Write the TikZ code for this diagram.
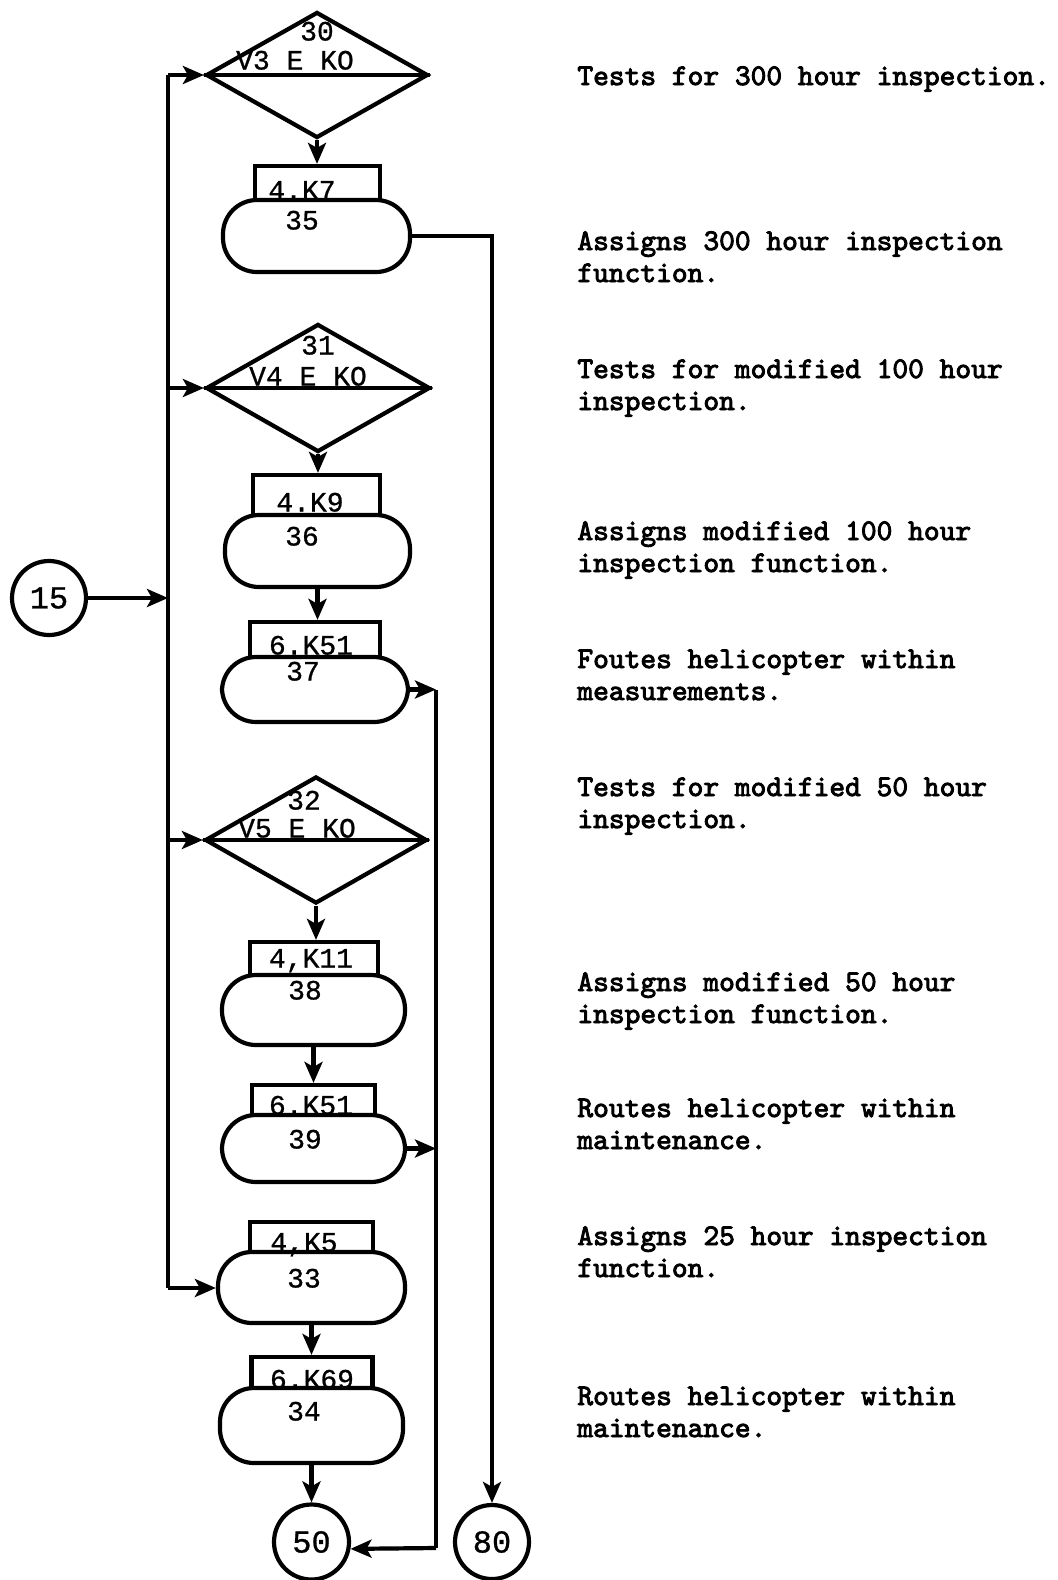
\documentclass[tikz,border=0pt]{standalone}
\usepackage{fontspec}
\newfontfamily\letterfont{Liberation Mono}[FakeBold=0.8]
\newfontfamily\typefont{lmmono10-regular.otf}[FakeBold=3]
\usetikzlibrary{arrows.meta,shapes.geometric}

\begin{document}
\begin{tikzpicture}[
  x=0.5pt, y=-0.5pt,
  ln/.style={line width=2.1pt},
  arr/.style={ln, -{Stealth[length=10.5pt,width=9pt,inset=2.5pt]}},
  decision/.style={draw, ln, diamond, inner sep=0pt},
  tagbox/.style={draw, ln, rectangle, inner sep=0pt},
  pill/.style={draw, ln, rectangle, inner sep=0pt, rounded corners=17pt},
  connector/.style={draw, ln, circle, inner sep=0pt, minimum size=37pt,
                    font=\letterfont\fontsize{16pt}{17pt}\selectfont},
  lbl/.style={inner sep=0pt, text height=8.5pt, text depth=0pt,
              font=\letterfont\fontsize{14pt}{15pt}\selectfont},
  note/.style={inner sep=0pt, anchor=base west, align=left,
               font=\typefont\fontsize{15pt}{16pt}\selectfont}
]
\useasboundingbox (0,0) rectangle (1057,1580);

% ---------- decision 30 and block 35
\node[decision, minimum width=111pt, minimum height=63pt] (d30) at (317,75) {};
\draw[ln] (d30.west) -- (d30.east);
\node[lbl] (n30) at (317,32) {30};
\node[lbl] (k30) at (295,61) {V3 E KO};

\node[tagbox, minimum width=62.5pt, minimum height=17pt] (b35) at (317.5,183) {};
\node[pill, minimum width=93.5pt, minimum height=36pt] (s35) at (316.5,236) {};
\node[lbl] (t35) at (302,191) {4.K7};
\node[lbl] (n35) at (302,221) {35};

% ---------- decision 31 and blocks 36, 37
\node[decision, minimum width=112pt, minimum height=64pt] (d31) at (318,388) {};
\draw[ln] (d31.west) -- (d31.east);
\node[lbl] (n31) at (318,346) {31};
\node[lbl] (k31) at (308,377) {V4 E KO};

\node[tagbox, minimum width=63.5pt, minimum height=20pt] (b36) at (316.5,495) {};
\node[pill, minimum width=92.5pt, minimum height=36pt] (s36) at (317.5,551) {};
\node[lbl] (t36) at (310,503) {4.K9};
\node[lbl] (n36) at (302,537) {36};

\node[tagbox, minimum width=65pt, minimum height=17.5pt] (b37) at (315,639.5) {};
\node[pill, minimum width=93pt, minimum height=32.5pt] (s37) at (315,689.5) {};
\node[lbl] (t37) at (311,646) {6.K51};
\node[lbl] (n37) at (303,672) {37};

% ---------- decision 32 and blocks 38, 39
\node[decision, minimum width=111pt, minimum height=63.5pt] (d32) at (316,840) {};
\draw[ln] (d32.west) -- (d32.east);
\node[lbl] (n32) at (304,801) {32};
\node[lbl] (k32) at (297,829) {V5 E KO};

\node[tagbox, minimum width=64pt, minimum height=16.5pt] (b38) at (314,958.5) {};
\node[pill, minimum width=91.5pt, minimum height=35pt] (s38) at (313.5,1010) {};
\node[lbl] (t38) at (311,959) {4,K11};
\node[lbl] (n38) at (305,991) {38};

\node[tagbox, minimum width=61.5pt, minimum height=15pt] (b39) at (313.5,1100) {};
\node[pill, minimum width=91.5pt, minimum height=33.5pt] (s39) at (313.5,1148.5) {};
\node[lbl] (t39) at (311,1106) {6.K51};
\node[lbl] (n39) at (305,1140) {39};

% ---------- blocks 33, 34
\node[tagbox, minimum width=61.5pt, minimum height=15pt] (b33) at (311.5,1237) {};
\node[pill, minimum width=93.5pt, minimum height=35.5pt] (s33) at (311.5,1287.5) {};
\node[lbl] (t33) at (304,1243) {4,K5};
\node[lbl] (n33) at (304,1279) {33};

\node[tagbox, minimum width=60.5pt, minimum height=15.5pt] (b34) at (312,1372.5) {};
\node[pill, minimum width=91.5pt, minimum height=37.5pt] (s34) at (311.5,1425.5) {};
\node[lbl] (t34) at (312,1380) {6.K69};
\node[lbl] (n34) at (304,1412) {34};

% ---------- off-page connectors
\node[connector] (c15) at (49,598) {15};
\node[connector, minimum size=37.5pt] (c50) at (311.5,1542) {50};
\node[connector, minimum size=37pt] (c80) at (492,1542) {80};

% ---------- entry trunk
\coordinate (t30) at (168,75);
\coordinate (t15) at (168,598);
\coordinate (t33) at (168,1288);
\draw[ln] (t30) -- (t33);
\draw[arr] (c15) -- (t15);
\draw[arr] (t30) -- (d30.west);
\draw[arr] (t30 |- d31.west) -- (d31.west);
\draw[arr] (t30 |- d32.west) -- (d32.west);
\draw[arr] (t33) -- (t33 -| s33.west);

% ---------- vertical flow
\draw[arr] (d30.south) -- (b35.north -| d30.south);
\draw[arr] (d31.south) -- (b36.north -| d31.south);
\draw[arr] (s36.south) -- (b37.north -| s36.south);
\draw[arr] (d32.south) -- (b38.north -| d32.south);
\draw[arr] (s38.south) -- (b39.north -| s38.south);
\draw[arr] (s33.south) -- (b34.north -| s33.south);
\draw[arr] (s34.south) -- (c50.north);

% ---------- exit to 80
\draw[arr] (s35.east) -- (s35.east -| c80.north) -- (c80.north);

% ---------- return line to 50
\coordinate (r37) at (436,689.5);
\coordinate (r39) at (436,1148.5);
\coordinate (rbot) at (436,1548);
\draw[arr] (s37.east) -- (r37);
\draw[arr] (s39.east) -- (r39);
\draw[ln] (r37) -- (rbot);
\draw[arr] (rbot) -- (c50.-10);

% ---------- notes (each anchored on the baseline of its last line)
\node[note] (m1) at (577,85) {Tests for 300 hour inspection.};
\node[note] (m2) at (577,282) {Assigns 300 hour inspection\\function.};
\node[note] (m3) at (577,410) {Tests for modified 100 hour\\inspection.};
\node[note] (m4) at (577,572) {Assigns modified 100 hour\\inspection function.};
\node[note] (m5) at (577,700) {Foutes helicopter within\\measurements.};
\node[note] (m6) at (577,828) {Tests for modified 50 hour\\inspection.};
\node[note] (m7) at (577,1023) {Assigns modified 50 hour\\inspection function.};
\node[note] (m8) at (577,1149) {Routes helicopter within\\maintenance.};
\node[note] (m9) at (577,1277) {Assigns 25 hour inspection\\function.};
\node[note] (m10) at (577,1437) {Routes helicopter within\\maintenance.};
\end{tikzpicture}
\end{document}
